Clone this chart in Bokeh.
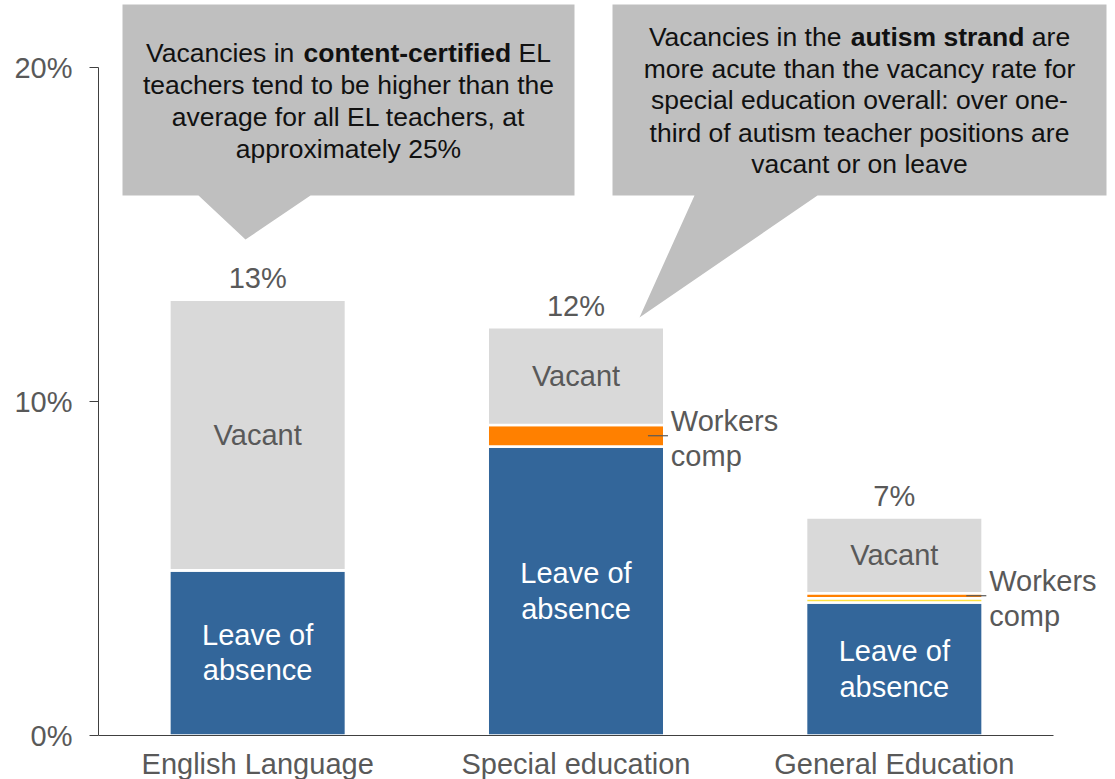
from bokeh.plotting import figure
from bokeh.models import Range1d, FixedTicker, PrintfTickFormatter
from bokeh.core.properties import value
from bokeh.embed import file_html
from bokeh.resources import INLINE

# ---------------- data ----------------
categories = ["English Language", "Special education", "General Education"]
leave = [4.95, 8.65, 3.98]
other = [0.0, 0.0, 0.13]
workers = [0.0, 0.65, 0.15]
vacant = [8.10, 2.92, 2.27]
y_ticks = [0, 10, 20]

seg_values = [leave, other, workers, vacant]
seg_colors = ["#33669A", "#FFE040", "#FF8000", "#D9D9D9"]

# ---------------- layout ----------------
W, H = 1115, 779
FL = 98            # frame left (px)
PXU = 318.33       # px per category unit
PY = 33.4          # px per percent
Y0 = 735           # canvas y of 0%
FONT = "Liberation Sans"
GREY_TXT = "#595959"

def X(px):  # pixel -> data x
    return -0.5 + (px - FL) / PXU

def Y(py):  # pixel -> data y
    return (Y0 - py) / PY

p = figure(width=W, height=H,
           x_range=Range1d(-0.5, -0.5 + (W - FL) / PXU),
           y_range=Range1d(-(H - Y0) / PY, Y0 / PY),
           output_backend="svg", toolbar_location=None,
           min_border_left=FL, min_border_right=0,
           min_border_top=0, min_border_bottom=0)
p.outline_line_color = None
p.grid.visible = False
p.background_fill_color = "white"

# axes
p.yaxis.ticker = FixedTicker(ticks=y_ticks)
p.yaxis.formatter = PrintfTickFormatter(format="%d%%")
p.yaxis.bounds = (0, 20)
p.yaxis.major_tick_out = 9
p.yaxis.major_tick_in = 0
p.yaxis.minor_tick_out = 0
p.yaxis.minor_tick_in = 0
p.yaxis.major_label_standoff = 17
p.yaxis.axis_line_color = "#404040"
p.yaxis.major_tick_line_color = "#404040"
p.yaxis.major_label_text_font = FONT
p.yaxis.major_label_text_font_size = "29px"
p.yaxis.major_label_text_color = GREY_TXT

p.xaxis.fixed_location = 0
p.xaxis.ticker = FixedTicker(ticks=list(range(len(categories))))
p.xaxis.major_label_overrides = {i: c for i, c in enumerate(categories)}
p.xaxis.bounds = (-0.5, 2.5)
p.xaxis.major_tick_out = 0
p.xaxis.major_tick_in = 0
p.xaxis.minor_tick_out = 0
p.xaxis.minor_tick_in = 0
p.xaxis.major_label_standoff = 12
p.xaxis.axis_line_color = "#404040"
p.xaxis.major_label_text_font = FONT
p.xaxis.major_label_text_font_size = "29px"
p.xaxis.major_label_text_color = GREY_TXT

# ---------------- callouts ----------------
CALLOUT = "#BFBFBF"
left_poly = [(122, 4), (574, 4), (574, 195), (310, 195), (245, 239), (198, 195), (122, 195)]
right_poly = [(612, 4), (1106, 4), (1106, 195), (817, 195), (639, 317), (694, 195), (612, 195)]
for poly in (left_poly, right_poly):
    p.patch([X(a) for a, b in poly], [Y(b) for a, b in poly],
            fill_color=CALLOUT, line_color=None)

AR = {' ': 278, 'V': 667, 'a': 556, 'c': 500, 'n': 556, 'i': 222, 'e': 556, 's': 500,
      't': 278, 'h': 556, 'r': 333, 'E': 667, 'L': 556}
AB = {' ': 278, 'a': 556, 'u': 611, 't': 333, 'i': 278, 's': 556, 'm': 889, 'r': 389,
      'n': 611, 'd': 611, 'c': 556, 'o': 611, 'e': 556, '-': 333, 'f': 333}
CFS = 26.5

def tw(s, bold):
    tbl = AB if bold else AR
    return sum(tbl.get(ch, 556) for ch in s) * CFS / 1000.0

def callout_lines(cx, centers, lines):
    for yc, parts in zip(centers, lines):
        if isinstance(parts, str):
            p.text(x=[X(cx)], y=[Y(yc)], text=[parts], text_align="center",
                   text_baseline="middle", text_font=value(FONT),
                   text_font_size=f"{CFS}px", text_color="#111111")
            continue
        total = sum(tw(s, b) for s, b in parts)
        cum = cx - total / 2.0
        for s, b in parts:
            lead = len(s) - len(s.lstrip(' '))
            xs = cum + tw(s[:lead], b)
            p.text(x=[X(xs)], y=[Y(yc)], text=[s.strip()], text_align="left",
                   text_baseline="middle", text_font=value(FONT),
                   text_font_style="bold" if b else "normal",
                   text_font_size=f"{CFS}px", text_color="#111111")
            cum += tw(s, b)

callout_lines(348, [52.8, 84.8, 116.5, 148.2], [
    [("Vacancies in ", False), ("content-certified", True), (" EL", False)],
    "teachers tend to be higher than the",
    "average for all EL teachers, at",
    "approximately 25%",
])
callout_lines(859, [36.5, 68.2, 99.8, 132.2, 163.8], [
    [("Vacancies in the ", False), ("autism strand", True), (" are", False)],
    "more acute than the vacancy rate for",
    "special education overall: over one-",
    "third of autism teacher positions are",
    "vacant or on leave",
])

# ---------------- bars ----------------
xs = list(range(len(categories)))
BW = 0.5545
bottom = [0.0] * len(categories)
bounds = []
for vals, col in zip(seg_values, seg_colors):
    top = [b + v for b, v in zip(bottom, vals)]
    p.vbar(x=xs, bottom=bottom, top=top, width=BW, fill_color=col,
           line_color="white", line_width=2.5)
    bounds.append((list(bottom), top))
    bottom = top
totals = bottom

# segment labels
lb, lt = bounds[0]
p.text(x=xs, y=[(b + t) / 2 for b, t in zip(lb, lt)], text=["Leave of\nabsence"] * len(xs),
       text_align="center", text_baseline="middle", text_font=value(FONT),
       text_font_size="29px", text_color="white", text_line_height=1.1)
vb, vt = bounds[3]
p.text(x=xs, y=[(b + t) / 2 for b, t in zip(vb, vt)], text=["Vacant"] * len(xs),
       text_align="center", text_baseline="middle", text_font=value(FONT),
       text_font_size="29px", text_color=GREY_TXT)

# totals
p.text(x=xs, y=[t + 21.5 / PY for t in totals], text=[f"{round(t)}%" for t in totals],
       text_align="center", text_baseline="middle", text_font=value(FONT),
       text_font_size="29px", text_color=GREY_TXT)

# workers comp labels with leader lines
wb, wt = bounds[2]
wx = [i for i in xs if workers[i] > 0]
wy = [(wb[i] + wt[i]) / 2 for i in wx]
p.segment(x0=[i + 0.226 for i in wx], y0=wy, x1=[i + 0.289 for i in wx], y1=wy,
          line_color=GREY_TXT, line_width=1.2)
p.text(x=[i + 0.298 for i in wx], y=[y - 2.5 / PY for y in wy], text=["Workers\ncomp"] * len(wx),
       text_align="left", text_baseline="middle", text_font=value(FONT),
       text_font_size="29px", text_color=GREY_TXT, text_line_height=1.1)

open("out.html", "w").write(file_html(p, INLINE))
